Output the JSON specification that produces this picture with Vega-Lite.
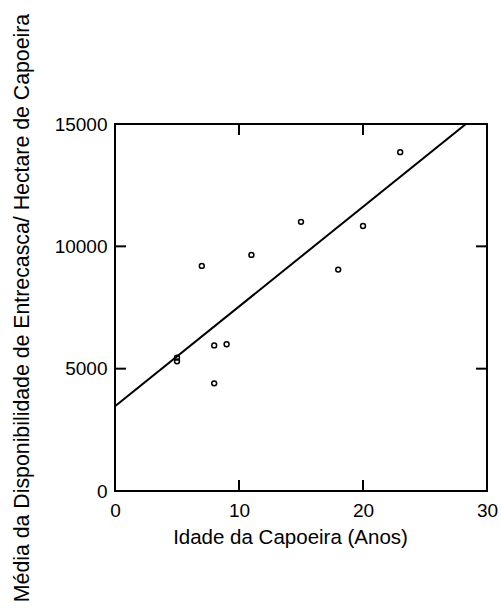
{
  "$schema": "https://vega.github.io/schema/vega-lite/v6.json",
  "autosize": "none",
  "padding": {"left": 115, "top": 124, "right": 14, "bottom": 121},
  "width": 372,
  "height": 367,
  "background": "white",
  "config": {
    "view": {"stroke": "black", "strokeWidth": 2},
    "font": "Liberation Sans",
    "axis": {
      "domain": false,
      "grid": false,
      "ticks": false,
      "labelFlush": false,
      "labelFont": "Liberation Sans",
      "labelFontSize": 19,
      "labelColor": "black",
      "titleFont": "Liberation Sans",
      "titleFontWeight": "normal",
      "titleColor": "black"
    }
  },
  "datasets": {
    "capoeiras": [
      {"idade": 5, "media": 5450},
      {"idade": 5, "media": 5300},
      {"idade": 7, "media": 9200},
      {"idade": 8, "media": 5950},
      {"idade": 8, "media": 4400},
      {"idade": 9, "media": 6000},
      {"idade": 11, "media": 9650},
      {"idade": 15, "media": 11000},
      {"idade": 18, "media": 9050},
      {"idade": 20, "media": 10830},
      {"idade": 23, "media": 13850}
    ],
    "marcas_x": [{"ano": 10}, {"ano": 20}],
    "marcas_y": [{"valor": 5000}, {"valor": 10000}]
  },
  "layer": [
    {
      "data": {"name": "capoeiras"},
      "mark": {"type": "point", "shape": "circle", "filled": false, "stroke": "black", "size": 24, "strokeWidth": 1.5, "opacity": 1},
      "encoding": {
        "x": {
          "field": "idade", "type": "quantitative",
          "scale": {"domain": [0, 30], "nice": false, "zero": false},
          "axis": {"orient": "bottom", "values": [0, 10, 20, 30], "title": "Idade da Capoeira (Anos)", "titleFontSize": 20.5, "labelPadding": 10, "titlePadding": 7, "titleX": 175}
        },
        "y": {
          "field": "media", "type": "quantitative",
          "scale": {"domain": [0, 15000], "nice": false},
          "axis": {"orient": "left", "values": [0, 5000, 10000, 15000], "format": "d", "title": "Média da Disponibilidade de Entrecasca/ Hectare de Capoeira", "titleFontSize": 21.3, "labelPadding": 8, "titlePadding": 22}
        }
      }
    },
    {
      "data": {"name": "capoeiras"},
      "transform": [
        {"regression": "media", "on": "idade", "extent": [0, 30]}
      ],
      "mark": {"type": "line", "color": "black", "strokeWidth": 2, "clip": true},
      "encoding": {
        "x": {
          "field": "idade", "type": "quantitative",
          "axis": {"orient": "bottom", "values": [0, 10, 20, 30], "title": "Idade da Capoeira (Anos)", "titleFontSize": 20.5, "labelPadding": 10, "titlePadding": 7, "titleX": 175}
        },
        "y": {
          "field": "media", "type": "quantitative",
          "axis": {"orient": "left", "values": [0, 5000, 10000, 15000], "format": "d", "title": "Média da Disponibilidade de Entrecasca/ Hectare de Capoeira", "titleFontSize": 21.3, "labelPadding": 8, "titlePadding": 22}
        }
      }
    },
    {
      "data": {"name": "marcas_x"},
      "mark": {"type": "tick", "orient": "vertical", "color": "black", "thickness": 2, "size": 22, "opacity": 1, "clip": true},
      "encoding": {
        "x": {
          "field": "ano", "type": "quantitative",
          "axis": {"orient": "bottom", "values": [0, 10, 20, 30], "title": "Idade da Capoeira (Anos)", "titleFontSize": 20.5, "labelPadding": 10, "titlePadding": 7, "titleX": 175}
        },
        "y": {
          "datum": 0, "type": "quantitative",
          "axis": {"orient": "left", "values": [0, 5000, 10000, 15000], "format": "d", "title": "Média da Disponibilidade de Entrecasca/ Hectare de Capoeira", "titleFontSize": 21.3, "labelPadding": 8, "titlePadding": 22}
        }
      }
    },
    {
      "data": {"name": "marcas_x"},
      "mark": {"type": "tick", "orient": "vertical", "color": "black", "thickness": 2, "size": 22, "opacity": 1, "clip": true},
      "encoding": {
        "x": {
          "field": "ano", "type": "quantitative",
          "axis": {"orient": "bottom", "values": [0, 10, 20, 30], "title": "Idade da Capoeira (Anos)", "titleFontSize": 20.5, "labelPadding": 10, "titlePadding": 7, "titleX": 175}
        },
        "y": {
          "datum": 15000, "type": "quantitative",
          "axis": {"orient": "left", "values": [0, 5000, 10000, 15000], "format": "d", "title": "Média da Disponibilidade de Entrecasca/ Hectare de Capoeira", "titleFontSize": 21.3, "labelPadding": 8, "titlePadding": 22}
        }
      }
    },
    {
      "data": {"name": "marcas_y"},
      "mark": {"type": "tick", "orient": "horizontal", "color": "black", "thickness": 2, "size": 22, "opacity": 1, "clip": true},
      "encoding": {
        "y": {
          "field": "valor", "type": "quantitative",
          "axis": {"orient": "left", "values": [0, 5000, 10000, 15000], "format": "d", "title": "Média da Disponibilidade de Entrecasca/ Hectare de Capoeira", "titleFontSize": 21.3, "labelPadding": 8, "titlePadding": 22}
        },
        "x": {
          "datum": 0, "type": "quantitative",
          "axis": {"orient": "bottom", "values": [0, 10, 20, 30], "title": "Idade da Capoeira (Anos)", "titleFontSize": 20.5, "labelPadding": 10, "titlePadding": 7, "titleX": 175}
        }
      }
    },
    {
      "data": {"name": "marcas_y"},
      "mark": {"type": "tick", "orient": "horizontal", "color": "black", "thickness": 2, "size": 22, "opacity": 1, "clip": true},
      "encoding": {
        "y": {
          "field": "valor", "type": "quantitative",
          "axis": {"orient": "left", "values": [0, 5000, 10000, 15000], "format": "d", "title": "Média da Disponibilidade de Entrecasca/ Hectare de Capoeira", "titleFontSize": 21.3, "labelPadding": 8, "titlePadding": 22}
        },
        "x": {
          "datum": 30, "type": "quantitative",
          "axis": {"orient": "bottom", "values": [0, 10, 20, 30], "title": "Idade da Capoeira (Anos)", "titleFontSize": 20.5, "labelPadding": 10, "titlePadding": 7, "titleX": 175}
        }
      }
    }
  ]
}
